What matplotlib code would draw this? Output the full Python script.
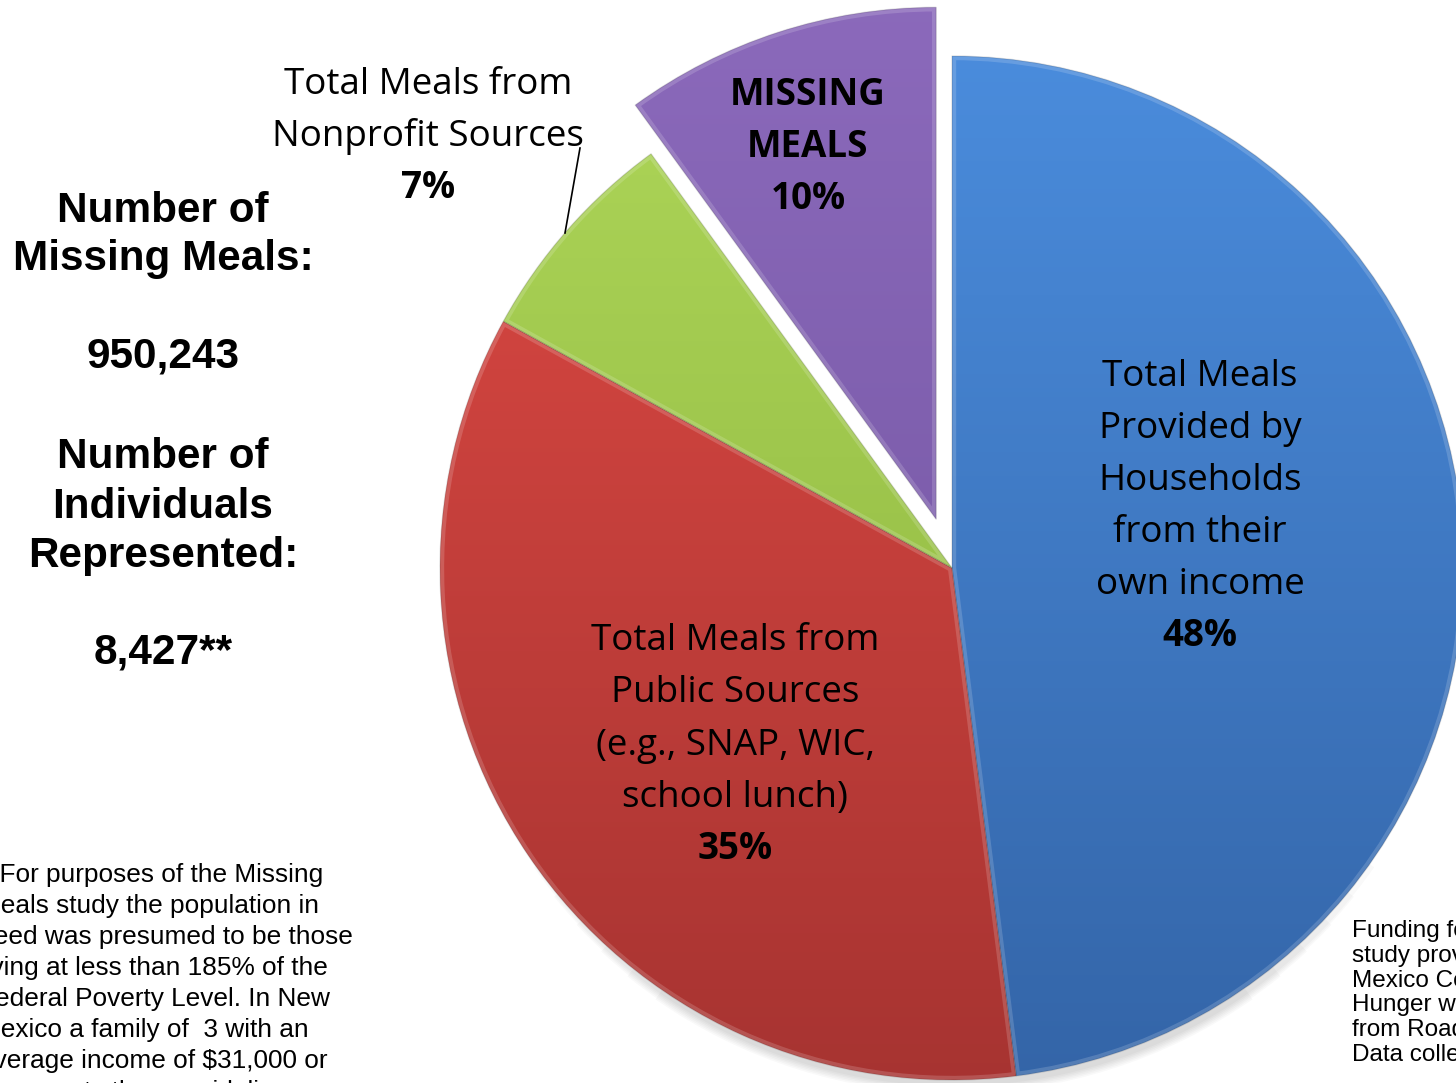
import numpy as np
import matplotlib
matplotlib.use("Agg")
import matplotlib.pyplot as plt
import matplotlib.patches as mpatches
from matplotlib.colors import LinearSegmentedColormap
from matplotlib.lines import Line2D

# ---------------- data ----------------
categories = ["Total Meals\nProvided by\nHouseholds\nfrom their\nown income",
              "Total Meals from\nPublic Sources\n(e.g., SNAP, WIC,\nschool lunch)",
              "Total Meals from\nNonprofit Sources",
              "MISSING\nMEALS"]
shares = [48, 35, 7, 10]
explode = [0, 0, 0, 0.1]
top_colors = ["#4C8FE0", "#E24B45", "#B0D85A", "#8C6ABC"]
bottom_colors = ["#3262A4", "#A33230", "#86AE3A", "#6C509A"]

left_lines = ["Number of", "Missing Meals:", "950,243", "Number of", "Individuals",
              "Represented:", "8,427**"]
footnote_left = ["**For purposes of the Missing", "Meals study the population in",
                 "need was presumed to be those", "living at less than 185% of the",
                 "Federal Poverty Level. In New", "Mexico a family of  3 with an",
                 "average income of $31,000 or", "less meets these guidelines."]
footnote_right = ["Funding for this", "study provided by New", "Mexico Collaboration to End",
                  "Hunger with support", "from Roadrunner Food Bank.",
                  "Data collection by the"]

W, H = 1456, 1083
fig = plt.figure(figsize=(W / 100, H / 100), dpi=100)
ax = fig.add_axes([0, 0, 1, 1])
ax.axis("off")

def Y(y):  # convert from top-based pixel coords
    return H - y

cx, cy, R = 952, Y(568), 512

wedges, _ = ax.pie(shares, explode=[e * R for e in explode], startangle=90,
                   counterclock=False, center=(cx, cy), radius=R,
                   colors=top_colors, wedgeprops=dict(linewidth=0))

# soft shadow just outside the lower rim of the pie
for k in range(6):
    sh = mpatches.Wedge((cx + 2, cy - 5), R + 1 + k * 1.5, 215 + k * 4, 325 - k * 4,
                        width=8 + k * 1.5, facecolor="black", edgecolor="none",
                        alpha=0.025, zorder=0.5)
    ax.add_patch(sh)

# gradient fills clipped to wedges
for w, ct, cb in zip(wedges, top_colors, bottom_colors):
    cmap = LinearSegmentedColormap.from_list("g", [cb, ct])
    grad = np.linspace(0, 1, 256).reshape(-1, 1)
    im = ax.imshow(grad, cmap=cmap, origin="lower", aspect="auto",
                   extent=(cx - R - 80, cx + R + 80, cy - R - 80, cy + R + 80),
                   zorder=2)
    im.set_clip_path(w)
    w.set_facecolor("white")
    w.set_zorder(1)
    hl = mpatches.Wedge(w.center, w.r, w.theta1, w.theta2, facecolor="none",
                        edgecolor="white", linewidth=6, alpha=0.16, zorder=3)
    ax.add_patch(hl)
    hl.set_clip_path(w)
    ed = mpatches.Wedge(w.center, w.r, w.theta1, w.theta2, facecolor="none",
                        edgecolor="black", linewidth=1.0, alpha=0.12, zorder=3)
    ax.add_patch(ed)

ax.set_xlim(0, W)
ax.set_ylim(0, H)
ax.set_aspect("equal")

open_sans = "Open Sans"
arial = "Liberation Sans"
FS = 26.5

def lines_at(lines, x, y0, step, **kw):
    for i, s in enumerate(lines):
        ax.text(x, Y(y0 + i * step), s, ha="center", va="baseline", zorder=5, **kw)

# Households label
hh = categories[0].split("\n")
lines_at(hh, 1200, 386, 52, fontsize=FS, family=open_sans)
ax.text(1200, Y(386 + 5 * 52), f"{shares[0]}%", ha="center", va="baseline",
        fontsize=FS, family=open_sans, fontweight="bold", zorder=5)

# Public label
pb = categories[1].split("\n")
lines_at(pb, 735, 650, 52.3, fontsize=FS, family=open_sans)
ax.text(735, Y(650 + 4 * 52.3), f"{shares[1]}%", ha="center", va="baseline",
        fontsize=FS, family=open_sans, fontweight="bold", zorder=5)

# Nonprofit label (outside)
np_lines = categories[2].split("\n")
lines_at(np_lines, 428, 94, 52, fontsize=FS, family=open_sans)
ax.text(428, Y(94 + 2 * 52), f"{shares[2]}%", ha="center", va="baseline",
        fontsize=FS, family=open_sans, fontweight="bold", zorder=5)
ax.add_line(Line2D([580, 565], [Y(148), Y(233)], color="black", lw=1.2, zorder=5))

# Missing label
ms = categories[3].split("\n")
lines_at(ms, 808, 105, 52, fontsize=FS, family=open_sans, fontweight="bold")
ax.text(808, Y(105 + 2 * 52), f"{shares[3]}%", ha="center", va="baseline",
        fontsize=FS, family=open_sans, fontweight="bold", zorder=5)

# Left bold block
left_y = [222, 270, 368, 468, 518, 567, 663]
for s, y in zip(left_lines, left_y):
    ax.text(163, Y(y), s, ha="center", va="baseline", fontsize=30.4,
            family=arial, fontweight="bold", zorder=5)

# Footnotes
for i, s in enumerate(footnote_left):
    ax.text(-21, Y(882 + i * 31), s, ha="left", va="baseline", fontsize=18.9,
            family=arial, zorder=5)
for i, s in enumerate(footnote_right):
    ax.text(1352, Y(937 + i * 24.8), s, ha="left", va="baseline", fontsize=17.5,
            family=arial, zorder=5)

fig.savefig("out.png", dpi=100)
